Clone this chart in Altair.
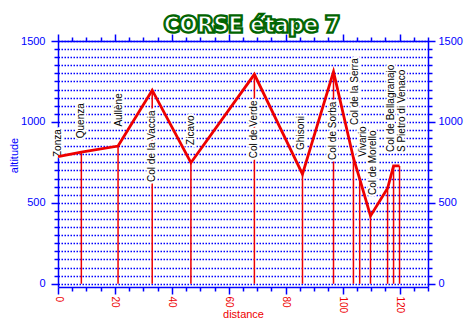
import altair as alt
import pandas as pd

# profile points
dist = [0, 8.2, 21.1, 33.1, 46.7, 69.0, 85.9, 96.8, 103.8, 106.0, 109.8, 115.8, 117.9, 120.0]
altitude = [785, 814, 851, 1196, 748, 1294, 678, 1311, 777, 648, 419, 590, 728, 728]

# place labels
place_names = ["Zonza", "Quenza", "Aullène", "Col de la Vaccia", "Zicavo", "Col de Verde",
               "Ghisoni", "Col de Sorba", "Col de la Serra", "Vivario", "Col de Morello",
               "Col de Bellagranajo", "S Pietro di Venaco"]
place_dist = [0, 8.2, 21.3, 33.1, 46.7, 69.0, 85.3, 96.6, 104.2, 107.3, 110.8, 117.1, 120.9]
place_label_alt = [783, 899, 971, 629, 858, 775, 827, 765, 981, 785, 549, 814, 814]

x_ticks = list(range(0, 131, 5))
y_ticks = list(range(0, 1501, 50))
title_text = "CORSE étape 7"

BLUE = "#0000ff"
RED = "#ee0000"
GREEN = "#006400"
FONT = "Liberation Sans"

profile = pd.DataFrame({"dist": dist, "alt": altitude})
places = pd.DataFrame({"name": place_names, "dist": place_dist, "lab": place_label_alt})

xs = alt.Scale(domain=[0, 130], nice=False, zero=False)
ys = alt.Scale(domain=[-20, 1500], nice=False, zero=False)

x_major = {"condition": {"test": "datum.value % 20 == 0", "value": 7}, "value": 4}
y_major = {"condition": {"test": "datum.value % 500 == 0", "value": 7}, "value": 4}

axis_common = dict(domainColor=BLUE, tickColor=BLUE, domainWidth=1.5, tickWidth=1.5)

x_bottom = alt.Axis(orient="bottom", values=x_ticks, format="d",
                    labelExpr="datum.value % 20 == 0 ? datum.label : ''",
                    labelAngle=90, labelColor=RED, labelFont=FONT, labelFontSize=10,
                    labelPadding=2, labelOverlap=False, tickSize=x_major,
                    title="distance", titleColor=RED, titleFont=FONT, titleFontSize=11,
                    titleFontWeight="normal", titleY=30, titleBaseline="alphabetic",
                    grid=False, **axis_common)
x_top = alt.Axis(orient="top", values=x_ticks, labels=False, tickSize=x_major,
                 title=None, grid=False, **axis_common)
y_left = alt.Axis(orient="left", values=y_ticks, format="d",
                  labelExpr="datum.value % 500 == 0 ? datum.label : ''",
                  labelColor=BLUE, labelFont=FONT, labelFontSize=11, labelPadding=6,
                  tickSize=y_major, grid=True, gridColor=BLUE, gridDash=[1.5, 1.5], gridWidth=1.3,
                  title="altitude", titleColor=BLUE, titleFont=FONT, titleFontSize=11,
                  titleFontWeight="normal", titleX=-44, titleY=114, titleAngle=270,
                  titleAlign="center", titleBaseline="middle", **axis_common)
y_right = alt.Axis(orient="right", values=y_ticks, format="d",
                   labelExpr="datum.value % 500 == 0 ? datum.label : ''",
                   labelColor=BLUE, labelFont=FONT, labelFontSize=11, labelPadding=3,
                   tickSize=y_major, grid=False, title=None, **axis_common)

rules = alt.Chart(profile).transform_filter("datum.dist > 0").transform_calculate(
    base="0"
).mark_rule(color=RED, strokeWidth=1.5).encode(
    x=alt.X("dist:Q", scale=xs, axis=x_top),
    y=alt.Y("base:Q", scale=ys, axis=y_right),
    y2="alt:Q",
)

halo = alt.Chart(places).mark_text(
    angle=270, align="left", baseline="middle", font=FONT, fontSize=10,
    color="white", stroke="white", strokeWidth=4,
).encode(
    x=alt.X("dist:Q", scale=xs, axis=None),
    y=alt.Y("lab:Q", scale=ys, axis=None),
    text="name:N",
)

labels = alt.Chart(places).mark_text(
    angle=270, align="left", baseline="middle", font=FONT, fontSize=10, color="black",
).encode(
    x=alt.X("dist:Q", scale=xs, axis=None),
    y=alt.Y("lab:Q", scale=ys, axis=None),
    text="name:N",
)

line = alt.Chart(profile).mark_line(color=RED, strokeWidth=2.8).encode(
    x=alt.X("dist:Q", scale=xs, axis=x_bottom),
    y=alt.Y("alt:Q", scale=ys, axis=y_left),
)

title_df = pd.DataFrame({"t": [title_text]})
title_back = alt.Chart(title_df).mark_text(
    font="DejaVu Sans", fontWeight="bold", fontSize=21, align="center",
    baseline="alphabetic", color=GREEN, stroke=GREEN, strokeWidth=3.5,
).encode(x=alt.value(194), y=alt.value(-9), text="t:N")
title_front = alt.Chart(title_df).mark_text(
    font="DejaVu Sans", fontWeight="bold", fontSize=21, align="center",
    baseline="alphabetic", color="white", stroke=GREEN, strokeWidth=1.2,
).encode(x=alt.value(194), y=alt.value(-9), text="t:N")

chart = alt.layer(rules, halo, labels, line, title_back, title_front).resolve_axis(
    x="independent", y="independent"
).resolve_scale(x="shared", y="shared").properties(
    width=370, height=246,
    autosize=alt.AutoSizeParams(type="none"),
    padding={"left": 58, "top": 41, "right": 42, "bottom": 40},
    background="white",
).configure_view(strokeWidth=0)

chart.save("out.html", embed_options={"renderer": "svg", "actions": False})
